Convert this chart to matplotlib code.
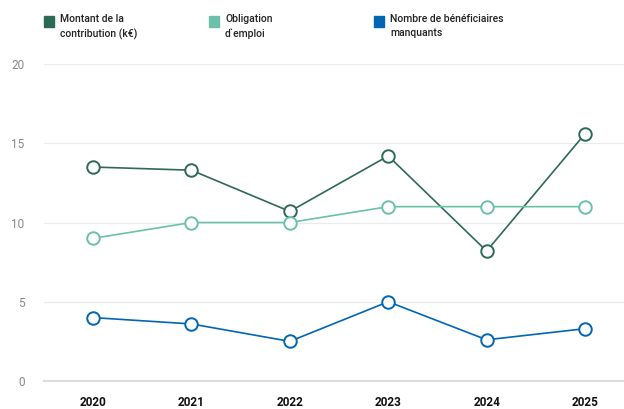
import matplotlib
matplotlib.use("Agg")
import matplotlib.pyplot as plt
from matplotlib.patches import Rectangle

# data
# ====
years = [2020, 2021, 2022, 2023, 2024, 2025]
montant = [13.5, 13.3, 10.7, 14.2, 8.2, 15.6]
obligation = [9, 10, 10, 11, 11, 11]
manquants = [4.0, 3.6, 2.5, 5.0, 2.6, 3.3]

labels = ["Montant de la\ncontribution (k€)", "Obligation\nd`emploi",
          "Nombre de bénéficiaires\nmanquants"]
colors = ["#2d6a55", "#6cc0aa", "#0066b3"]
y_ticks = [0, 5, 10, 15, 20]

plt.rcParams["font.family"] = ["Roboto", "DejaVu Sans"]

fig = plt.figure(figsize=(6.24, 4.09), dpi=100)
ax = fig.add_axes([44 / 624, 28 / 409, 580 / 624, 317 / 409])

for series, c in zip([montant, obligation, manquants], colors):
    ax.plot(years, series, color=c, lw=1.2, marker="o", ms=9,
            mfc="white", mec=c, mew=1.4, zorder=3, clip_on=False)

ax.set_xlim(2019.502, 2025.396)
ax.set_ylim(0, 20)
ax.set_yticks(y_ticks)
ax.set_xticks(years)
ax.set_xticklabels([str(y) for y in years], fontweight="bold", fontsize=8.5,
                   color="#111111")
ax.tick_params(axis="x", length=0, pad=11)
ax.tick_params(axis="y", length=0, pad=14, labelsize=8.5, labelcolor="#888888")
ax.grid(axis="y", color="#ebebeb", lw=0.8)
for s in ["top", "right", "left"]:
    ax.spines[s].set_visible(False)
ax.spines["bottom"].set_color("#dddddd")
ax.spines["bottom"].set_linewidth(1.5)

# legend
leg_x = [44, 209, 374]
for x, lab, c in zip(leg_x, labels, colors):
    fig.patches.append(Rectangle((x / 624, 1 - 27 / 409), 10 / 624, 11 / 409,
                                 transform=fig.transFigure, color=c))
    fig.text((x + 16) / 624, 1 - 14 / 409, lab, fontsize=7.5, color="#222222",
             va="top", ha="left", linespacing=1.55, fontweight="medium")

fig.savefig("out.png", dpi=100)
